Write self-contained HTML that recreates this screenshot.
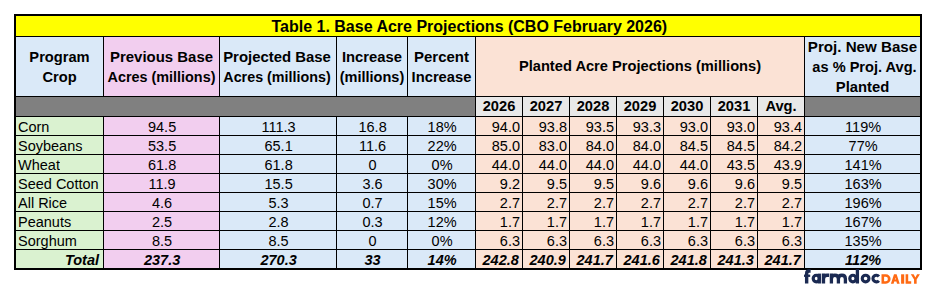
<!DOCTYPE html>
<html><head><meta charset="utf-8"><style>
html,body{margin:0;padding:0;background:#fff;}
body{width:937px;height:288px;position:relative;overflow:hidden;font-family:"Liberation Sans",sans-serif;color:#000;}
div{position:absolute;white-space:nowrap;}
.r{font-size:14.5px;transform:scaleY(1.06);}
.b{font-size:14.67px;font-weight:bold;transform:scaleY(1.05);}
.bi{font-size:14.5px;font-weight:bold;font-style:italic;transform:scaleY(1.06);}
.t{font-size:16px;font-weight:bold;transform:scaleY(1.06);}
</style></head><body>
<div style="left:14px;top:14px;width:908px;height:256px;background:#000"></div>
<div style="left:16px;top:16px;width:904px;height:20px;background:#FFFF00"></div>
<div style="left:16px;top:37px;width:87px;height:59px;background:#DAE9F8"></div>
<div style="left:104px;top:37px;width:115px;height:59px;background:#F2CEEF"></div>
<div style="left:220px;top:37px;width:116px;height:59px;background:#DAE9F8"></div>
<div style="left:337px;top:37px;width:70px;height:59px;background:#DAE9F8"></div>
<div style="left:408px;top:37px;width:67px;height:59px;background:#DAE9F8"></div>
<div style="left:476px;top:37px;width:328px;height:59px;background:#FBE2D5"></div>
<div style="left:805px;top:37px;width:115px;height:59px;background:#DAE9F8"></div>
<div style="left:16px;top:97px;width:459px;height:19px;background:#808080"></div>
<div style="left:476px;top:97px;width:46px;height:19px;background:#E8E8E8"></div>
<div style="left:523px;top:97px;width:46px;height:19px;background:#E8E8E8"></div>
<div style="left:570px;top:97px;width:46px;height:19px;background:#E8E8E8"></div>
<div style="left:617px;top:97px;width:46px;height:19px;background:#E8E8E8"></div>
<div style="left:664px;top:97px;width:46px;height:19px;background:#E8E8E8"></div>
<div style="left:711px;top:97px;width:46px;height:19px;background:#E8E8E8"></div>
<div style="left:758px;top:97px;width:46px;height:19px;background:#E8E8E8"></div>
<div style="left:805px;top:97px;width:115px;height:19px;background:#808080"></div>
<div style="left:16px;top:117px;width:87px;height:18px;background:#DAF2D0"></div>
<div style="left:104px;top:117px;width:115px;height:18px;background:#F2CEEF"></div>
<div style="left:220px;top:117px;width:116px;height:18px;background:#DAE9F8"></div>
<div style="left:337px;top:117px;width:70px;height:18px;background:#DAE9F8"></div>
<div style="left:408px;top:117px;width:67px;height:18px;background:#DAE9F8"></div>
<div style="left:476px;top:117px;width:46px;height:18px;background:#FBE2D5"></div>
<div style="left:523px;top:117px;width:46px;height:18px;background:#FBE2D5"></div>
<div style="left:570px;top:117px;width:46px;height:18px;background:#FBE2D5"></div>
<div style="left:617px;top:117px;width:46px;height:18px;background:#FBE2D5"></div>
<div style="left:664px;top:117px;width:46px;height:18px;background:#FBE2D5"></div>
<div style="left:711px;top:117px;width:46px;height:18px;background:#FBE2D5"></div>
<div style="left:758px;top:117px;width:46px;height:18px;background:#FBE2D5"></div>
<div style="left:805px;top:117px;width:115px;height:18px;background:#DAE9F8"></div>
<div style="left:16px;top:136px;width:87px;height:18px;background:#DAF2D0"></div>
<div style="left:104px;top:136px;width:115px;height:18px;background:#F2CEEF"></div>
<div style="left:220px;top:136px;width:116px;height:18px;background:#DAE9F8"></div>
<div style="left:337px;top:136px;width:70px;height:18px;background:#DAE9F8"></div>
<div style="left:408px;top:136px;width:67px;height:18px;background:#DAE9F8"></div>
<div style="left:476px;top:136px;width:46px;height:18px;background:#FBE2D5"></div>
<div style="left:523px;top:136px;width:46px;height:18px;background:#FBE2D5"></div>
<div style="left:570px;top:136px;width:46px;height:18px;background:#FBE2D5"></div>
<div style="left:617px;top:136px;width:46px;height:18px;background:#FBE2D5"></div>
<div style="left:664px;top:136px;width:46px;height:18px;background:#FBE2D5"></div>
<div style="left:711px;top:136px;width:46px;height:18px;background:#FBE2D5"></div>
<div style="left:758px;top:136px;width:46px;height:18px;background:#FBE2D5"></div>
<div style="left:805px;top:136px;width:115px;height:18px;background:#DAE9F8"></div>
<div style="left:16px;top:155px;width:87px;height:18px;background:#DAF2D0"></div>
<div style="left:104px;top:155px;width:115px;height:18px;background:#F2CEEF"></div>
<div style="left:220px;top:155px;width:116px;height:18px;background:#DAE9F8"></div>
<div style="left:337px;top:155px;width:70px;height:18px;background:#DAE9F8"></div>
<div style="left:408px;top:155px;width:67px;height:18px;background:#DAE9F8"></div>
<div style="left:476px;top:155px;width:46px;height:18px;background:#FBE2D5"></div>
<div style="left:523px;top:155px;width:46px;height:18px;background:#FBE2D5"></div>
<div style="left:570px;top:155px;width:46px;height:18px;background:#FBE2D5"></div>
<div style="left:617px;top:155px;width:46px;height:18px;background:#FBE2D5"></div>
<div style="left:664px;top:155px;width:46px;height:18px;background:#FBE2D5"></div>
<div style="left:711px;top:155px;width:46px;height:18px;background:#FBE2D5"></div>
<div style="left:758px;top:155px;width:46px;height:18px;background:#FBE2D5"></div>
<div style="left:805px;top:155px;width:115px;height:18px;background:#DAE9F8"></div>
<div style="left:16px;top:174px;width:87px;height:18px;background:#DAF2D0"></div>
<div style="left:104px;top:174px;width:115px;height:18px;background:#F2CEEF"></div>
<div style="left:220px;top:174px;width:116px;height:18px;background:#DAE9F8"></div>
<div style="left:337px;top:174px;width:70px;height:18px;background:#DAE9F8"></div>
<div style="left:408px;top:174px;width:67px;height:18px;background:#DAE9F8"></div>
<div style="left:476px;top:174px;width:46px;height:18px;background:#FBE2D5"></div>
<div style="left:523px;top:174px;width:46px;height:18px;background:#FBE2D5"></div>
<div style="left:570px;top:174px;width:46px;height:18px;background:#FBE2D5"></div>
<div style="left:617px;top:174px;width:46px;height:18px;background:#FBE2D5"></div>
<div style="left:664px;top:174px;width:46px;height:18px;background:#FBE2D5"></div>
<div style="left:711px;top:174px;width:46px;height:18px;background:#FBE2D5"></div>
<div style="left:758px;top:174px;width:46px;height:18px;background:#FBE2D5"></div>
<div style="left:805px;top:174px;width:115px;height:18px;background:#DAE9F8"></div>
<div style="left:16px;top:193px;width:87px;height:18px;background:#DAF2D0"></div>
<div style="left:104px;top:193px;width:115px;height:18px;background:#F2CEEF"></div>
<div style="left:220px;top:193px;width:116px;height:18px;background:#DAE9F8"></div>
<div style="left:337px;top:193px;width:70px;height:18px;background:#DAE9F8"></div>
<div style="left:408px;top:193px;width:67px;height:18px;background:#DAE9F8"></div>
<div style="left:476px;top:193px;width:46px;height:18px;background:#FBE2D5"></div>
<div style="left:523px;top:193px;width:46px;height:18px;background:#FBE2D5"></div>
<div style="left:570px;top:193px;width:46px;height:18px;background:#FBE2D5"></div>
<div style="left:617px;top:193px;width:46px;height:18px;background:#FBE2D5"></div>
<div style="left:664px;top:193px;width:46px;height:18px;background:#FBE2D5"></div>
<div style="left:711px;top:193px;width:46px;height:18px;background:#FBE2D5"></div>
<div style="left:758px;top:193px;width:46px;height:18px;background:#FBE2D5"></div>
<div style="left:805px;top:193px;width:115px;height:18px;background:#DAE9F8"></div>
<div style="left:16px;top:212px;width:87px;height:18px;background:#DAF2D0"></div>
<div style="left:104px;top:212px;width:115px;height:18px;background:#F2CEEF"></div>
<div style="left:220px;top:212px;width:116px;height:18px;background:#DAE9F8"></div>
<div style="left:337px;top:212px;width:70px;height:18px;background:#DAE9F8"></div>
<div style="left:408px;top:212px;width:67px;height:18px;background:#DAE9F8"></div>
<div style="left:476px;top:212px;width:46px;height:18px;background:#FBE2D5"></div>
<div style="left:523px;top:212px;width:46px;height:18px;background:#FBE2D5"></div>
<div style="left:570px;top:212px;width:46px;height:18px;background:#FBE2D5"></div>
<div style="left:617px;top:212px;width:46px;height:18px;background:#FBE2D5"></div>
<div style="left:664px;top:212px;width:46px;height:18px;background:#FBE2D5"></div>
<div style="left:711px;top:212px;width:46px;height:18px;background:#FBE2D5"></div>
<div style="left:758px;top:212px;width:46px;height:18px;background:#FBE2D5"></div>
<div style="left:805px;top:212px;width:115px;height:18px;background:#DAE9F8"></div>
<div style="left:16px;top:231px;width:87px;height:18px;background:#DAF2D0"></div>
<div style="left:104px;top:231px;width:115px;height:18px;background:#F2CEEF"></div>
<div style="left:220px;top:231px;width:116px;height:18px;background:#DAE9F8"></div>
<div style="left:337px;top:231px;width:70px;height:18px;background:#DAE9F8"></div>
<div style="left:408px;top:231px;width:67px;height:18px;background:#DAE9F8"></div>
<div style="left:476px;top:231px;width:46px;height:18px;background:#FBE2D5"></div>
<div style="left:523px;top:231px;width:46px;height:18px;background:#FBE2D5"></div>
<div style="left:570px;top:231px;width:46px;height:18px;background:#FBE2D5"></div>
<div style="left:617px;top:231px;width:46px;height:18px;background:#FBE2D5"></div>
<div style="left:664px;top:231px;width:46px;height:18px;background:#FBE2D5"></div>
<div style="left:711px;top:231px;width:46px;height:18px;background:#FBE2D5"></div>
<div style="left:758px;top:231px;width:46px;height:18px;background:#FBE2D5"></div>
<div style="left:805px;top:231px;width:115px;height:18px;background:#DAE9F8"></div>
<div style="left:16px;top:250px;width:87px;height:18px;background:#DAF2D0"></div>
<div style="left:104px;top:250px;width:115px;height:18px;background:#F2CEEF"></div>
<div style="left:220px;top:250px;width:116px;height:18px;background:#DAE9F8"></div>
<div style="left:337px;top:250px;width:70px;height:18px;background:#DAE9F8"></div>
<div style="left:408px;top:250px;width:67px;height:18px;background:#DAE9F8"></div>
<div style="left:476px;top:250px;width:46px;height:18px;background:#FBE2D5"></div>
<div style="left:523px;top:250px;width:46px;height:18px;background:#FBE2D5"></div>
<div style="left:570px;top:250px;width:46px;height:18px;background:#FBE2D5"></div>
<div style="left:617px;top:250px;width:46px;height:18px;background:#FBE2D5"></div>
<div style="left:664px;top:250px;width:46px;height:18px;background:#FBE2D5"></div>
<div style="left:711px;top:250px;width:46px;height:18px;background:#FBE2D5"></div>
<div style="left:758px;top:250px;width:46px;height:18px;background:#FBE2D5"></div>
<div style="left:805px;top:250px;width:115px;height:18px;background:#DAE9F8"></div>
<div class="r" style="left:16px;top:118.25px;width:87px;height:18px;line-height:18px;text-align:left;padding-left:2px;box-sizing:border-box">Corn</div>
<div class="r" style="left:104.6px;top:118.25px;width:115.0px;height:18px;line-height:18px;text-align:center">94.5</div>
<div class="r" style="left:220.6px;top:118.25px;width:116.00000000000003px;height:18px;line-height:18px;text-align:center">111.3</div>
<div class="r" style="left:337.6px;top:118.25px;width:70.0px;height:18px;line-height:18px;text-align:center">16.8</div>
<div class="r" style="left:408.6px;top:118.25px;width:67.0px;height:18px;line-height:18px;text-align:center">18%</div>
<div class="r" style="left:476px;top:118.25px;width:46px;height:18px;line-height:18px;text-align:right;padding-right:2px;box-sizing:border-box">94.0</div>
<div class="r" style="left:523px;top:118.25px;width:46px;height:18px;line-height:18px;text-align:right;padding-right:2px;box-sizing:border-box">93.8</div>
<div class="r" style="left:570px;top:118.25px;width:46px;height:18px;line-height:18px;text-align:right;padding-right:2px;box-sizing:border-box">93.5</div>
<div class="r" style="left:617px;top:118.25px;width:46px;height:18px;line-height:18px;text-align:right;padding-right:2px;box-sizing:border-box">93.3</div>
<div class="r" style="left:664px;top:118.25px;width:46px;height:18px;line-height:18px;text-align:right;padding-right:2px;box-sizing:border-box">93.0</div>
<div class="r" style="left:711px;top:118.25px;width:46px;height:18px;line-height:18px;text-align:right;padding-right:2px;box-sizing:border-box">93.0</div>
<div class="r" style="left:758px;top:118.25px;width:46px;height:18px;line-height:18px;text-align:right;padding-right:2px;box-sizing:border-box">93.4</div>
<div class="r" style="left:805.6px;top:118.25px;width:115.0px;height:18px;line-height:18px;text-align:center">119%</div>
<div class="r" style="left:16px;top:137.25px;width:87px;height:18px;line-height:18px;text-align:left;padding-left:2px;box-sizing:border-box">Soybeans</div>
<div class="r" style="left:104.6px;top:137.25px;width:115.0px;height:18px;line-height:18px;text-align:center">53.5</div>
<div class="r" style="left:220.6px;top:137.25px;width:116.00000000000003px;height:18px;line-height:18px;text-align:center">65.1</div>
<div class="r" style="left:337.6px;top:137.25px;width:70.0px;height:18px;line-height:18px;text-align:center">11.6</div>
<div class="r" style="left:408.6px;top:137.25px;width:67.0px;height:18px;line-height:18px;text-align:center">22%</div>
<div class="r" style="left:476px;top:137.25px;width:46px;height:18px;line-height:18px;text-align:right;padding-right:2px;box-sizing:border-box">85.0</div>
<div class="r" style="left:523px;top:137.25px;width:46px;height:18px;line-height:18px;text-align:right;padding-right:2px;box-sizing:border-box">83.0</div>
<div class="r" style="left:570px;top:137.25px;width:46px;height:18px;line-height:18px;text-align:right;padding-right:2px;box-sizing:border-box">84.0</div>
<div class="r" style="left:617px;top:137.25px;width:46px;height:18px;line-height:18px;text-align:right;padding-right:2px;box-sizing:border-box">84.0</div>
<div class="r" style="left:664px;top:137.25px;width:46px;height:18px;line-height:18px;text-align:right;padding-right:2px;box-sizing:border-box">84.5</div>
<div class="r" style="left:711px;top:137.25px;width:46px;height:18px;line-height:18px;text-align:right;padding-right:2px;box-sizing:border-box">84.5</div>
<div class="r" style="left:758px;top:137.25px;width:46px;height:18px;line-height:18px;text-align:right;padding-right:2px;box-sizing:border-box">84.2</div>
<div class="r" style="left:805.6px;top:137.25px;width:115.0px;height:18px;line-height:18px;text-align:center">77%</div>
<div class="r" style="left:16px;top:156.25px;width:87px;height:18px;line-height:18px;text-align:left;padding-left:2px;box-sizing:border-box">Wheat</div>
<div class="r" style="left:104.6px;top:156.25px;width:115.0px;height:18px;line-height:18px;text-align:center">61.8</div>
<div class="r" style="left:220.6px;top:156.25px;width:116.00000000000003px;height:18px;line-height:18px;text-align:center">61.8</div>
<div class="r" style="left:337.6px;top:156.25px;width:70.0px;height:18px;line-height:18px;text-align:center">0</div>
<div class="r" style="left:408.6px;top:156.25px;width:67.0px;height:18px;line-height:18px;text-align:center">0%</div>
<div class="r" style="left:476px;top:156.25px;width:46px;height:18px;line-height:18px;text-align:right;padding-right:2px;box-sizing:border-box">44.0</div>
<div class="r" style="left:523px;top:156.25px;width:46px;height:18px;line-height:18px;text-align:right;padding-right:2px;box-sizing:border-box">44.0</div>
<div class="r" style="left:570px;top:156.25px;width:46px;height:18px;line-height:18px;text-align:right;padding-right:2px;box-sizing:border-box">44.0</div>
<div class="r" style="left:617px;top:156.25px;width:46px;height:18px;line-height:18px;text-align:right;padding-right:2px;box-sizing:border-box">44.0</div>
<div class="r" style="left:664px;top:156.25px;width:46px;height:18px;line-height:18px;text-align:right;padding-right:2px;box-sizing:border-box">44.0</div>
<div class="r" style="left:711px;top:156.25px;width:46px;height:18px;line-height:18px;text-align:right;padding-right:2px;box-sizing:border-box">43.5</div>
<div class="r" style="left:758px;top:156.25px;width:46px;height:18px;line-height:18px;text-align:right;padding-right:2px;box-sizing:border-box">43.9</div>
<div class="r" style="left:805.6px;top:156.25px;width:115.0px;height:18px;line-height:18px;text-align:center">141%</div>
<div class="r" style="left:16px;top:175.25px;width:87px;height:18px;line-height:18px;text-align:left;padding-left:2px;box-sizing:border-box">Seed Cotton</div>
<div class="r" style="left:104.6px;top:175.25px;width:115.0px;height:18px;line-height:18px;text-align:center">11.9</div>
<div class="r" style="left:220.6px;top:175.25px;width:116.00000000000003px;height:18px;line-height:18px;text-align:center">15.5</div>
<div class="r" style="left:337.6px;top:175.25px;width:70.0px;height:18px;line-height:18px;text-align:center">3.6</div>
<div class="r" style="left:408.6px;top:175.25px;width:67.0px;height:18px;line-height:18px;text-align:center">30%</div>
<div class="r" style="left:476px;top:175.25px;width:46px;height:18px;line-height:18px;text-align:right;padding-right:2px;box-sizing:border-box">9.2</div>
<div class="r" style="left:523px;top:175.25px;width:46px;height:18px;line-height:18px;text-align:right;padding-right:2px;box-sizing:border-box">9.5</div>
<div class="r" style="left:570px;top:175.25px;width:46px;height:18px;line-height:18px;text-align:right;padding-right:2px;box-sizing:border-box">9.5</div>
<div class="r" style="left:617px;top:175.25px;width:46px;height:18px;line-height:18px;text-align:right;padding-right:2px;box-sizing:border-box">9.6</div>
<div class="r" style="left:664px;top:175.25px;width:46px;height:18px;line-height:18px;text-align:right;padding-right:2px;box-sizing:border-box">9.6</div>
<div class="r" style="left:711px;top:175.25px;width:46px;height:18px;line-height:18px;text-align:right;padding-right:2px;box-sizing:border-box">9.6</div>
<div class="r" style="left:758px;top:175.25px;width:46px;height:18px;line-height:18px;text-align:right;padding-right:2px;box-sizing:border-box">9.5</div>
<div class="r" style="left:805.6px;top:175.25px;width:115.0px;height:18px;line-height:18px;text-align:center">163%</div>
<div class="r" style="left:16px;top:194.25px;width:87px;height:18px;line-height:18px;text-align:left;padding-left:2px;box-sizing:border-box">All Rice</div>
<div class="r" style="left:104.6px;top:194.25px;width:115.0px;height:18px;line-height:18px;text-align:center">4.6</div>
<div class="r" style="left:220.6px;top:194.25px;width:116.00000000000003px;height:18px;line-height:18px;text-align:center">5.3</div>
<div class="r" style="left:337.6px;top:194.25px;width:70.0px;height:18px;line-height:18px;text-align:center">0.7</div>
<div class="r" style="left:408.6px;top:194.25px;width:67.0px;height:18px;line-height:18px;text-align:center">15%</div>
<div class="r" style="left:476px;top:194.25px;width:46px;height:18px;line-height:18px;text-align:right;padding-right:2px;box-sizing:border-box">2.7</div>
<div class="r" style="left:523px;top:194.25px;width:46px;height:18px;line-height:18px;text-align:right;padding-right:2px;box-sizing:border-box">2.7</div>
<div class="r" style="left:570px;top:194.25px;width:46px;height:18px;line-height:18px;text-align:right;padding-right:2px;box-sizing:border-box">2.7</div>
<div class="r" style="left:617px;top:194.25px;width:46px;height:18px;line-height:18px;text-align:right;padding-right:2px;box-sizing:border-box">2.7</div>
<div class="r" style="left:664px;top:194.25px;width:46px;height:18px;line-height:18px;text-align:right;padding-right:2px;box-sizing:border-box">2.7</div>
<div class="r" style="left:711px;top:194.25px;width:46px;height:18px;line-height:18px;text-align:right;padding-right:2px;box-sizing:border-box">2.7</div>
<div class="r" style="left:758px;top:194.25px;width:46px;height:18px;line-height:18px;text-align:right;padding-right:2px;box-sizing:border-box">2.7</div>
<div class="r" style="left:805.6px;top:194.25px;width:115.0px;height:18px;line-height:18px;text-align:center">196%</div>
<div class="r" style="left:16px;top:213.25px;width:87px;height:18px;line-height:18px;text-align:left;padding-left:2px;box-sizing:border-box">Peanuts</div>
<div class="r" style="left:104.6px;top:213.25px;width:115.0px;height:18px;line-height:18px;text-align:center">2.5</div>
<div class="r" style="left:220.6px;top:213.25px;width:116.00000000000003px;height:18px;line-height:18px;text-align:center">2.8</div>
<div class="r" style="left:337.6px;top:213.25px;width:70.0px;height:18px;line-height:18px;text-align:center">0.3</div>
<div class="r" style="left:408.6px;top:213.25px;width:67.0px;height:18px;line-height:18px;text-align:center">12%</div>
<div class="r" style="left:476px;top:213.25px;width:46px;height:18px;line-height:18px;text-align:right;padding-right:2px;box-sizing:border-box">1.7</div>
<div class="r" style="left:523px;top:213.25px;width:46px;height:18px;line-height:18px;text-align:right;padding-right:2px;box-sizing:border-box">1.7</div>
<div class="r" style="left:570px;top:213.25px;width:46px;height:18px;line-height:18px;text-align:right;padding-right:2px;box-sizing:border-box">1.7</div>
<div class="r" style="left:617px;top:213.25px;width:46px;height:18px;line-height:18px;text-align:right;padding-right:2px;box-sizing:border-box">1.7</div>
<div class="r" style="left:664px;top:213.25px;width:46px;height:18px;line-height:18px;text-align:right;padding-right:2px;box-sizing:border-box">1.7</div>
<div class="r" style="left:711px;top:213.25px;width:46px;height:18px;line-height:18px;text-align:right;padding-right:2px;box-sizing:border-box">1.7</div>
<div class="r" style="left:758px;top:213.25px;width:46px;height:18px;line-height:18px;text-align:right;padding-right:2px;box-sizing:border-box">1.7</div>
<div class="r" style="left:805.6px;top:213.25px;width:115.0px;height:18px;line-height:18px;text-align:center">167%</div>
<div class="r" style="left:16px;top:232.25px;width:87px;height:18px;line-height:18px;text-align:left;padding-left:2px;box-sizing:border-box">Sorghum</div>
<div class="r" style="left:104.6px;top:232.25px;width:115.0px;height:18px;line-height:18px;text-align:center">8.5</div>
<div class="r" style="left:220.6px;top:232.25px;width:116.00000000000003px;height:18px;line-height:18px;text-align:center">8.5</div>
<div class="r" style="left:337.6px;top:232.25px;width:70.0px;height:18px;line-height:18px;text-align:center">0</div>
<div class="r" style="left:408.6px;top:232.25px;width:67.0px;height:18px;line-height:18px;text-align:center">0%</div>
<div class="r" style="left:476px;top:232.25px;width:46px;height:18px;line-height:18px;text-align:right;padding-right:2px;box-sizing:border-box">6.3</div>
<div class="r" style="left:523px;top:232.25px;width:46px;height:18px;line-height:18px;text-align:right;padding-right:2px;box-sizing:border-box">6.3</div>
<div class="r" style="left:570px;top:232.25px;width:46px;height:18px;line-height:18px;text-align:right;padding-right:2px;box-sizing:border-box">6.3</div>
<div class="r" style="left:617px;top:232.25px;width:46px;height:18px;line-height:18px;text-align:right;padding-right:2px;box-sizing:border-box">6.3</div>
<div class="r" style="left:664px;top:232.25px;width:46px;height:18px;line-height:18px;text-align:right;padding-right:2px;box-sizing:border-box">6.3</div>
<div class="r" style="left:711px;top:232.25px;width:46px;height:18px;line-height:18px;text-align:right;padding-right:2px;box-sizing:border-box">6.3</div>
<div class="r" style="left:758px;top:232.25px;width:46px;height:18px;line-height:18px;text-align:right;padding-right:2px;box-sizing:border-box">6.3</div>
<div class="r" style="left:805.6px;top:232.25px;width:115.0px;height:18px;line-height:18px;text-align:center">135%</div>
<div class="bi" style="left:16px;top:251.25px;width:87px;height:18px;line-height:18px;text-align:right;padding-right:4px;box-sizing:border-box">Total</div>
<div class="bi" style="left:104.6px;top:251.25px;width:115.0px;height:18px;line-height:18px;text-align:center">237.3</div>
<div class="bi" style="left:220.6px;top:251.25px;width:116.00000000000003px;height:18px;line-height:18px;text-align:center">270.3</div>
<div class="bi" style="left:337.6px;top:251.25px;width:70.0px;height:18px;line-height:18px;text-align:center">33</div>
<div class="bi" style="left:408.6px;top:251.25px;width:67.0px;height:18px;line-height:18px;text-align:center">14%</div>
<div class="bi" style="left:476px;top:251.25px;width:46px;height:18px;line-height:18px;text-align:right;padding-right:3.2px;box-sizing:border-box">242.8</div>
<div class="bi" style="left:523px;top:251.25px;width:46px;height:18px;line-height:18px;text-align:right;padding-right:3.2px;box-sizing:border-box">240.9</div>
<div class="bi" style="left:570px;top:251.25px;width:46px;height:18px;line-height:18px;text-align:right;padding-right:3.2px;box-sizing:border-box">241.7</div>
<div class="bi" style="left:617px;top:251.25px;width:46px;height:18px;line-height:18px;text-align:right;padding-right:3.2px;box-sizing:border-box">241.6</div>
<div class="bi" style="left:664px;top:251.25px;width:46px;height:18px;line-height:18px;text-align:right;padding-right:3.2px;box-sizing:border-box">241.8</div>
<div class="bi" style="left:711px;top:251.25px;width:46px;height:18px;line-height:18px;text-align:right;padding-right:3.2px;box-sizing:border-box">241.3</div>
<div class="bi" style="left:758px;top:251.25px;width:46px;height:18px;line-height:18px;text-align:right;padding-right:3.2px;box-sizing:border-box">241.7</div>
<div class="bi" style="left:805.6px;top:251.25px;width:115.0px;height:18px;line-height:18px;text-align:center">112%</div>
<div style="left:103px;top:37px;width:1px;height:59px;background:#000"></div>
<div style="left:103px;top:117px;width:1px;height:151px;background:#000"></div>
<div style="left:219px;top:37px;width:1px;height:59px;background:#000"></div>
<div style="left:219px;top:117px;width:1px;height:151px;background:#000"></div>
<div style="left:336px;top:37px;width:1px;height:59px;background:#000"></div>
<div style="left:336px;top:117px;width:1px;height:151px;background:#000"></div>
<div style="left:407px;top:37px;width:1px;height:59px;background:#000"></div>
<div style="left:407px;top:117px;width:1px;height:151px;background:#000"></div>
<div style="left:475px;top:37px;width:1px;height:59px;background:#000"></div>
<div style="left:475px;top:117px;width:1px;height:151px;background:#000"></div>
<div style="left:522px;top:97px;width:1px;height:171px;background:#000"></div>
<div style="left:569px;top:97px;width:1px;height:171px;background:#000"></div>
<div style="left:616px;top:97px;width:1px;height:171px;background:#000"></div>
<div style="left:663px;top:97px;width:1px;height:171px;background:#000"></div>
<div style="left:710px;top:97px;width:1px;height:171px;background:#000"></div>
<div style="left:757px;top:97px;width:1px;height:171px;background:#000"></div>
<div style="left:804px;top:37px;width:1px;height:231px;background:#000"></div>
<div style="left:16px;top:36px;width:904px;height:1px;background:#000"></div>
<div style="left:16px;top:96px;width:904px;height:1px;background:#000"></div>
<div style="left:16px;top:116px;width:904px;height:1px;background:#000"></div>
<div style="left:16px;top:135px;width:904px;height:1px;background:#000"></div>
<div style="left:16px;top:154px;width:904px;height:1px;background:#000"></div>
<div style="left:16px;top:173px;width:904px;height:1px;background:#000"></div>
<div style="left:16px;top:192px;width:904px;height:1px;background:#000"></div>
<div style="left:16px;top:211px;width:904px;height:1px;background:#000"></div>
<div style="left:16px;top:230px;width:904px;height:1px;background:#000"></div>
<div style="left:16px;top:249px;width:904px;height:1px;background:#000"></div>
<div class="b" style="left:16.0px;top:47.5px;width:87.0px;height:18.6px;line-height:18.6px;text-align:center;transform:scale(1.0,1.05)">Program</div>
<div class="b" style="left:16.0px;top:67.7px;width:87.0px;height:18.6px;line-height:18.6px;text-align:center;transform:scale(1.0,1.05)">Crop</div>
<div class="b" style="left:103.6px;top:47.5px;width:115.0px;height:18.6px;line-height:18.6px;text-align:center;transform:scale(1.02,1.05)">Previous Base</div>
<div class="b" style="left:103.6px;top:67.7px;width:115.0px;height:18.6px;line-height:18.6px;text-align:center;transform:scale(0.981,1.05)">Acres (millions)</div>
<div class="b" style="left:219.3px;top:47.5px;width:116.0px;height:18.6px;line-height:18.6px;text-align:center;transform:scale(1.017,1.05)">Projected Base</div>
<div class="b" style="left:219.3px;top:67.7px;width:116.0px;height:18.6px;line-height:18.6px;text-align:center;transform:scale(0.976,1.05)">Acres (millions)</div>
<div class="b" style="left:337.2px;top:47.5px;width:70.0px;height:18.6px;line-height:18.6px;text-align:center;transform:scale(1.01,1.05)">Increase</div>
<div class="b" style="left:337px;top:67.7px;width:70px;height:18.6px;line-height:18.6px;text-align:center;transform:scale(0.99,1.05)">(millions)</div>
<div class="b" style="left:408px;top:47.5px;width:67px;height:18.6px;line-height:18.6px;text-align:center;transform:scale(1.02,1.05)">Percent</div>
<div class="b" style="left:408.3px;top:67.7px;width:67.0px;height:18.6px;line-height:18.6px;text-align:center;transform:scale(1.005,1.05)">Increase</div>
<div class="b" style="left:476px;top:56.8px;width:328px;height:18.6px;line-height:18.6px;text-align:center">Planted Acre Projections (millions)</div>
<div class="b" style="left:805.3px;top:37.6px;width:115.0px;height:18.85px;line-height:18.85px;text-align:center;transform:scale(1.033,1.05)">Proj. New Base</div>
<div class="b" style="left:806.6px;top:57.7px;width:115.0px;height:18.85px;line-height:18.85px;text-align:center;transform:scale(0.995,1.05)">as % Proj. Avg.</div>
<div class="b" style="left:805.4px;top:77.80000000000001px;width:115.0px;height:18.85px;line-height:18.85px;text-align:center;transform:scale(1.01,1.05)">Planted</div>
<div class="b" style="left:476px;top:97.4px;width:46px;height:19px;line-height:19px;text-align:center">2026</div>
<div class="b" style="left:523px;top:97.4px;width:46px;height:19px;line-height:19px;text-align:center">2027</div>
<div class="b" style="left:570px;top:97.4px;width:46px;height:19px;line-height:19px;text-align:center">2028</div>
<div class="b" style="left:617px;top:97.4px;width:46px;height:19px;line-height:19px;text-align:center">2029</div>
<div class="b" style="left:664px;top:97.4px;width:46px;height:19px;line-height:19px;text-align:center">2030</div>
<div class="b" style="left:711px;top:97.4px;width:46px;height:19px;line-height:19px;text-align:center">2031</div>
<div class="b" style="left:758px;top:97.4px;width:46px;height:19px;line-height:19px;text-align:center">Avg.</div>
<div class="t" style="left:17.3px;top:17px;width:904.0px;height:20px;line-height:20px;text-align:center">Table 1. Base Acre Projections (CBO February 2026)</div>
<svg style="position:absolute;left:800px;top:266px" width="130" height="22" viewBox="800 266 130 22">
<g fill="none" stroke="#1B2A52" stroke-width="3.3">
<path d="M806.65,283.4 V273.4 Q806.65,271 809.2,271 H810.6" stroke-width="3.4"/>
<ellipse cx="816.3" cy="278.6" rx="3.1" ry="3.35" stroke-width="3.2"/>
<path d="M819.3,273.6 V283.5"/>
<path d="M823.45,283.5 V273.6 M823.45,279 Q823.45,275.3 827,275.3 H829.1" stroke-width="3.4"/>
<path d="M831.4,283.5 V273.6 M831.4,279 Q831.4,275.25 834.9,275.25 Q838.4,275.25 838.4,279 V283.5 M838.4,279 Q838.4,275.25 841.9,275.25 Q845.4,275.25 845.4,279 V283.5"/>
<ellipse cx="852.9" cy="278.6" rx="3.1" ry="3.35" stroke-width="3.2"/>
<path d="M857.4,269.3 V283.5"/>
<circle cx="865.6" cy="278.55" r="3.35" stroke-width="3.1"/>
<path d="M878.87,276.4 A3.35,3.35 0 1 0 878.87,280.7" stroke-width="3.1"/>
</g>
<rect x="804" y="274.6" width="6.2" height="2.3" fill="#1B2A52"/>
<g fill="#FF6A13" fill-rule="evenodd">
<path d="M881.5,274.3 H885.9 A4.7,4.7 0 0 1 885.9,283.7 H881.5 Z M884.1,276.8 H885.7 A2.2,2.2 0 0 1 885.7,281.2 H884.1 Z"/>
<path d="M890.9,283.7 L894,274.3 H896.6 L899.7,283.7 H897 L896.4,281.6 H894.2 L893.6,283.7 Z M894.8,279.6 H895.8 L895.3,277.6 Z"/>
<rect x="901.1" y="274.3" width="3.1" height="9.4"/>
<path d="M905.6,274.3 H908.2 V281.2 H911.2 V283.7 H905.6 Z"/>
<path d="M910.8,274.3 H913.6 L915.35,277.4 L917.1,274.3 H919.9 L916.65,279.6 V283.7 H914.05 V279.6 Z"/>
</g>
</svg>
</body></html>
